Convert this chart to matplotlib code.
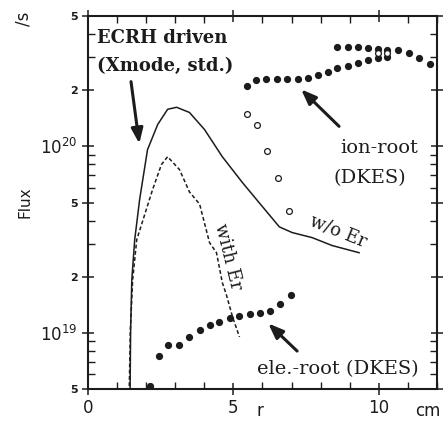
import numpy as np
import matplotlib
matplotlib.use("Agg")
import matplotlib.pyplot as plt
from matplotlib.ticker import FixedLocator, NullFormatter

# w/o Er (solid)
r_noer = [1.45, 1.47, 1.51, 1.61, 1.78, 2.05, 2.40, 2.74, 3.05, 3.49, 4.01, 4.62, 5.31, 5.79, 6.58, 7.02, 7.71, 8.39, 9.32]
f_noer = [4.8e18, 1.04e19, 1.93e19, 3.16e19, 5.2e19, 9.6e19, 1.31e20, 1.58e20, 1.62e20, 1.52e20, 1.23e20, 8.8e19, 6.4e19, 5.2e19, 3.7e19, 3.45e19, 3.24e19, 2.94e19, 2.69e19]

# with Er (dashed)
r_er = [1.42, 1.46, 1.54, 1.68, 2.23, 2.53, 2.74, 3.15, 3.49, 3.84, 4.18, 4.42, 4.62, 4.76, 4.97, 5.21]
f_er = [4.8e18, 1.04e19, 1.93e19, 3.16e19, 5.9e19, 8.0e19, 8.8e19, 7.5e19, 5.7e19, 4.9e19, 3.05e19, 2.69e19, 1.86e19, 1.6e19, 1.22e19, 9.5e18]

# ion-root (DKES), filled dots
r_ion = [5.48, 5.79, 6.13, 6.51, 6.85, 7.23, 7.57, 7.91, 8.25, 8.56, 8.94, 9.28, 9.62, 9.97, 10.27,
         8.56, 8.94, 9.28, 9.62, 9.97, 10.27, 10.65, 11.03, 11.37, 11.75]
f_ion = [2.10e20, 2.27e20, 2.29e20, 2.29e20, 2.29e20, 2.29e20, 2.32e20, 2.41e20, 2.50e20, 2.63e20, 2.69e20, 2.79e20, 2.90e20, 2.97e20, 3.01e20,
         3.41e20, 3.41e20, 3.41e20, 3.37e20, 3.33e20, 3.28e20, 3.28e20, 3.16e20, 2.97e20, 2.75e20]

# ion-root, open circles
r_ion_open = [5.48, 5.82, 6.16, 6.54, 6.92, 9.97, 10.27]
f_ion_open = [1.49e20, 1.30e20, 9.4e19, 6.8e19, 4.5e19, 3.15e20, 3.15e20]

# ele.-root (DKES)
r_ele = [2.12, 2.43, 2.77, 3.12, 3.46, 3.84, 4.18, 4.52, 4.90, 5.21, 5.58, 5.92, 6.27, 6.61, 6.99]
f_ele = [5.19e18, 7.5e18, 8.6e18, 8.6e18, 9.5e18, 1.04e19, 1.10e19, 1.15e19, 1.20e19, 1.23e19, 1.27e19, 1.28e19, 1.31e19, 1.42e19, 1.60e19]

ytick_vals = [5e18, 1e19, 2e19, 5e19, 1e20, 2e20, 5e20]
ytick_labels = ["5", "$10^{19}$", "2", "5", "$10^{20}$", "2", "5"]
xtick_vals = [0, 5, 10]

ink = "#1c1c1c"

fig = plt.figure(figsize=(4.46, 4.21), dpi=100)
ax = fig.add_axes([0.197, 0.076, 0.783, 0.886])

ax.plot(r_noer, f_noer, color=ink, lw=1.1)
ax.plot(r_er, f_er, color=ink, lw=1.1, ls=(0, (2.5, 1.6)))
ax.plot(r_ion, f_ion, ls="none", marker="o", ms=4.2, color=ink)
ax.plot(r_ion_open, f_ion_open, ls="none", marker="o", ms=4.2, mfc="white", mec=ink, mew=0.9)
ax.plot(r_ele, f_ele, ls="none", marker="o", ms=4.2, color=ink)

ax.set_yscale("log")
ax.set_xlim(0, 12)
ax.set_ylim(5e18, 5e20)

ax.yaxis.set_major_locator(FixedLocator(ytick_vals))
ax.set_yticklabels(ytick_labels)
minor = [m * 10.0**e for e in (18, 19, 20) for m in range(2, 10)]
minor = [v for v in minor if 5e18 < v < 5e20 and v not in ytick_vals]
ax.yaxis.set_minor_locator(FixedLocator(minor))
ax.yaxis.set_minor_formatter(NullFormatter())
for lab, txt in zip(ax.get_yticklabels(), ytick_labels):
    lab.set_fontsize(12 if txt.startswith("$") else 8)
    lab.set_fontweight("bold")

ax.xaxis.set_major_locator(FixedLocator(xtick_vals))
ax.xaxis.set_minor_locator(FixedLocator([v for v in range(1, 13) if v not in xtick_vals]))
ax.set_xticklabels([str(v) for v in xtick_vals], fontsize=12)

ax.tick_params(which="major", direction="inout", length=9, width=1.1, colors=ink,
               top=True, right=True, pad=3)
ax.tick_params(which="minor", direction="in", length=5, width=1.0, colors=ink,
               top=True, right=True)
for s in ax.spines.values():
    s.set_linewidth(1.5)
    s.set_color(ink)

fig.text(25 / 446, 1 - 202 / 421, "Flux", rotation=90, ha="center", va="center", fontsize=11, color=ink)
fig.text(23 / 446, 1 - 19 / 421, "/s", rotation=90, ha="center", va="center", fontsize=12, color=ink)
fig.text(260 / 446, 1.5 / 421, "r", ha="center", va="bottom", fontsize=12, color=ink)
fig.text(428 / 446, 1.5 / 421, "cm", ha="center", va="bottom", fontsize=12, color=ink)

serif = "DejaVu Serif"
ax.text(0.3, 3.8e20, "ECRH driven", family=serif, fontweight="bold", fontsize=13, color=ink, va="center")
ax.text(0.3, 2.7e20, "(Xmode, std.)", family=serif, fontweight="bold", fontsize=13, color=ink, va="center")
ax.text(10.0, 9.8e19, "ion-root", family=serif, fontsize=14, color=ink, ha="center", va="center")
ax.text(9.7, 6.8e19, "(DKES)", family=serif, fontsize=14, color=ink, ha="center", va="center")
ax.text(8.6, 3.5e19, "w/o Er", family=serif, fontsize=13, color=ink, ha="center", va="center", rotation=-22)
ax.text(4.8, 2.55e19, "with Er", family=serif, fontsize=13, color=ink, ha="center", va="center", rotation=-76)
ax.text(8.6, 6.4e18, "ele.-root (DKES)", family=serif, fontsize=14, color=ink, ha="center", va="center")

arrow = dict(arrowstyle="-|>,head_length=0.9,head_width=0.35", color=ink, lw=2.2)
ax.annotate("", xy=(1.78, 1.0e20), xytext=(1.47, 2.3e20), arrowprops=arrow)
ax.annotate("", xy=(7.26, 2.07e20), xytext=(8.70, 1.25e20), arrowprops=arrow)
ax.annotate("", xy=(6.13, 1.15e19), xytext=(7.26, 7.8e18), arrowprops=arrow)

fig.savefig("out.png", dpi=100)
